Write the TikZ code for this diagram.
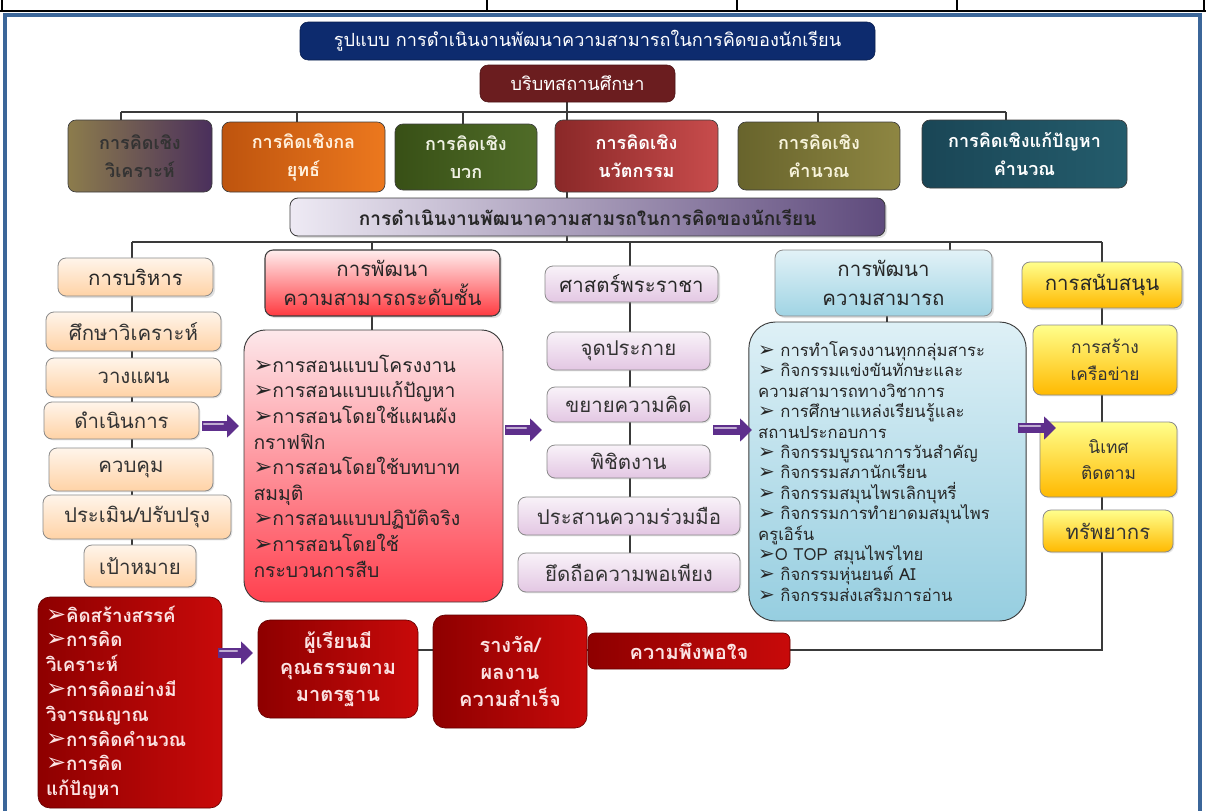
\documentclass[tikz,border=0pt]{standalone}
\usepackage{fontspec}
\newfontfamily\thai[Script=Thai]{Loma}
\newfontfamily\symf{DejaVu Sans}
\usetikzlibrary{arrows.meta,calc,shadows}
\pgfdeclarelayer{background}
\pgfsetlayers{background,main}
\newcommand\thsz[2]{\thai\fontsize{#1}{#2}\selectfont}
\newcommand\bul[1][12]{{\symf\fontsize{#1}{#1}\selectfont ➢}}
\newcommand\mkbox[7]{\node[#2,minimum width={(#5-#3)*0.75pt},minimum height={(#6-#4)*0.75pt}] (#1) at ({(#3+#5)/2},{(#4+#6)/2}) {#7};}
\definecolor{cFrame}{HTML}{3B6699}
\definecolor{cLine}{HTML}{3A3A3A}
\definecolor{cArrow}{HTML}{5E2F8C}
\definecolor{cNavy}{HTML}{0D2B6E}
\definecolor{cMaroon}{HTML}{6B1D1F}
\definecolor{cGrayB}{HTML}{8A8A8A}
\definecolor{cDarkB}{HTML}{3C3C3C}
\definecolor{cRedA}{HTML}{8E0000}
\definecolor{cRedB}{HTML}{C80A0A}
\definecolor{cRedTxt}{HTML}{FBE3E3}
\tikzset{
  box/.style={rounded corners=6pt, inner sep=2pt, outer sep=0pt, align=center},
  conn/.style={draw=cLine, line width=0.9pt},
  bigarrow/.style={draw=cArrow, line width=7pt, -{Triangle[length=9pt,width=17pt]}},
  arrowlight/.style={draw=cArrow!40!white, line width=1.6pt, line cap=round},
  think/.style={box, font=\thsz{13.5}{21}\bfseries, draw=cDarkB, line width=0.5pt},
  head/.style={box, font=\thsz{15.3}{22}, text=black!85, draw=cGrayB, line width=0.6pt,
     drop shadow={opacity=0.25,shadow xshift=1.5pt,shadow yshift=-1.5pt}},
  item/.style={box, font=\thsz{15.3}{18}, text=black!80, draw=cGrayB, line width=0.6pt,
     drop shadow={opacity=0.2,shadow xshift=1pt,shadow yshift=-1pt}},
  peach/.style={top color=orange!8, bottom color=orange!35!white},
  lav/.style={top color=violet!5, bottom color=violet!22!white},
  yel/.style={top color=yellow!45!white, bottom color=orange!55!yellow},
  redbox/.style={box, rounded corners=9pt, left color=cRedA, right color=cRedB, draw=cRedA!70!black,
     line width=0.5pt, text=cRedTxt, font=\thsz{15}{20}\bfseries},
}
\begin{document}
\begin{tikzpicture}[x=0.75pt,y=-0.75pt]
\useasboundingbox (0,0) rectangle (1206,810);
\begin{pgfonlayer}{background}
\fill[white] (0,0) rectangle (1206,810);
\end{pgfonlayer}
% top strip and frame
\draw[black, line width=1.6pt] (0,11) -- (1206,11);
\foreach \xx in {2,487,737,957,1204} \draw[black, line width=1pt] (\xx,0) -- (\xx,11);
\draw[cFrame, line width=3pt] (5,15) rectangle (1200,815);

% title and context
\mkbox{title}{box, fill=cNavy, draw=cNavy!70!black, text=white, font=\thsz{13.6}{16}}{300}{22}{875}{60}{รูปแบบ การดำเนินงานพัฒนาความสามารถในการคิดของนักเรียน}
\mkbox{ctx}{box, fill=cMaroon, draw=cMaroon!70!black, text=white, font=\thsz{13.6}{16}}{480}{65}{675}{102}{บริบทสถานศึกษา}

% thinking types
\mkbox{t1}{think, left color={rgb,255:red,140;green,124;blue,76}, right color={rgb,255:red,74;green,47;blue,92}, text=black!80}{68}{120}{212}{192}{การคิดเชิง\\วิเคราะห์}
\mkbox{t2}{think, left color={rgb,255:red,190;green,84;blue,14}, right color={rgb,255:red,236;green,120;blue,30}, text={rgb,255:red,255;green,240;blue,220}}{222}{122}{385}{192}{การคิดเชิงกล\\ยุทธ์}
\mkbox{t3}{think, left color={rgb,255:red,56;green,80;blue,22}, right color={rgb,255:red,80;green,108;blue,40}, text={rgb,255:red,240;green,242;blue,228}}{395}{124}{537}{190}{การคิดเชิง\\บวก}
\mkbox{t4}{think, left color={rgb,255:red,138;green,40;blue,40}, right color={rgb,255:red,200;green,76;blue,76}, text=white}{555}{120}{718}{192}{การคิดเชิง\\นวัตกรรม}
\mkbox{t5}{think, left color={rgb,255:red,104;green,100;blue,44}, right color={rgb,255:red,142;green,134;blue,66}, text={rgb,255:red,248;green,244;blue,220}}{738}{122}{900}{190}{การคิดเชิง\\คำนวณ}
\mkbox{t6}{think, left color={rgb,255:red,26;green,70;blue,86}, right color={rgb,255:red,36;green,92;blue,108}, text=white}{922}{120}{1127}{188}{การคิดเชิงแก้ปัญหา\\คำนวณ}

% middle bar
\mkbox{mid}{box, left color={rgb,255:red,238;green,234;blue,244}, right color={rgb,255:red,94;green,74;blue,124}, draw=cDarkB, line width=0.6pt, text=black!85, font=\thsz{14.3}{16}\bfseries, drop shadow={opacity=0.25,shadow xshift=1.5pt,shadow yshift=-1.5pt}}{290}{198}{885}{236}{การดำเนินงานพัฒนาความสามรถในการคิดของนักเรียน}

% column heads
\mkbox{h1}{head, peach}{58}{258}{213}{296}{การบริหาร}
\mkbox{h2}{head, top color={rgb,255:red,255;green,238;blue,238}, bottom color={rgb,255:red,255;green,58;blue,64}, draw=cDarkB, line width=0.8pt}{265}{250}{500}{316}{การพัฒนา\\ความสามารถระดับชั้น}
\mkbox{h3}{head, lav}{545}{266}{718}{302}{ศาสตร์พระราชา}
\mkbox{h4}{head, top color={rgb,255:red,226;green,242;blue,247}, bottom color={rgb,255:red,160;green,212;blue,228}}{775}{250}{992}{316}{การพัฒนา\\ความสามารถ}
\mkbox{h5}{head, yel}{1022}{262}{1182}{308}{การสนับสนุน}

% column 1
\mkbox{a1}{item, peach}{46}{312}{221}{351}{ศึกษาวิเคราะห์}
\mkbox{a2}{item, peach}{46}{358}{221}{397}{วางแผน}
\mkbox{a3}{item, peach}{44}{402}{199}{439}{ดำเนินการ}
\mkbox{a4}{item, peach}{49}{448}{213}{491}{ควบคุม}
\mkbox{a5}{item, peach}{43}{495}{231}{539}{ประเมิน/ปรับปรุง}
\mkbox{a6}{item, peach}{84}{545}{196}{587}{เป้าหมาย}

% column 2
\mkbox{p2}{box, rounded corners=16pt, top color={rgb,255:red,253;green,232;blue,235}, bottom color={rgb,255:red,255;green,64;blue,78}, draw=cDarkB, line width=0.7pt, align=left, text width=180pt, inner xsep=7pt, text=black!85, font=\thsz{14.5}{19.2}}{244}{330}{503}{602}{\bul[17]การสอนแบบโครงงาน\\\bul[17]การสอนแบบแก้ปัญหา\\\bul[17]การสอนโดยใช้แผนผัง\\กราฟฟิก\\\bul[17]การสอนโดยใช้บทบาท\\สมมุติ\\\bul[17]การสอนแบบปฏิบัติจริง\\\bul[17]การสอนโดยใช้\\กระบวนการสืบ}

% column 3
\mkbox{c1}{item, lav}{547}{332}{710}{370}{จุดประกาย}
\mkbox{c2}{item, lav}{547}{387}{710}{422}{ขยายความคิด}
\mkbox{c3}{item, lav}{547}{445}{710}{478}{พิชิตงาน}
\mkbox{c4}{item, lav}{518}{497}{740}{535}{ประสานความร่วมมือ}
\mkbox{c5}{item, lav}{518}{553}{740}{592}{ยึดถือความพอเพียง}

% column 4
\mkbox{p4}{box, rounded corners=20pt, top color={rgb,255:red,222;green,240;blue,246}, bottom color={rgb,255:red,150;green,206;blue,224}, draw=cDarkB, line width=0.7pt, align=left, text width=194pt, inner xsep=7pt, text=black!85, font=\thsz{12.5}{15.3}}{749}{322}{1026}{621}{\bul[15]\ การทำโครงงานทุกกลุ่มสาระ\\\bul[15]\ กิจกรรมแข่งขันทักษะและ\\ความสามารถทางวิชาการ\\\bul[15]\ การศึกษาแหล่งเรียนรู้และ\\สถานประกอบการ\\\bul[15]\ กิจกรรมบูรณาการวันสำคัญ\\\bul[15]\ กิจกรรมสภานักเรียน\\\bul[15]\ กิจกรรมสมุนไพรเลิกบุหรี่\\\bul[15]\ กิจกรรมการทำยาดมสมุนไพร\\ครูเอิร์น\\\bul[15]O TOP  สมุนไพรไทย\\\bul[15]\ กิจกรรมหุ่นยนต์ AI\\\bul[15]\ กิจกรรมส่งเสริมการอ่าน}

% column 5
\mkbox{s1}{item, yel, font=\thsz{13}{20}}{1033}{325}{1177}{395}{การสร้าง\\เครือข่าย}
\mkbox{s2}{item, yel, font=\thsz{13}{20}}{1040}{422}{1177}{497}{นิเทศ\\ติดตาม}
\mkbox{s3}{item, yel}{1043}{510}{1173}{552}{ทรัพยากร}

% bottom row
\mkbox{r1}{redbox, align=left, text width=126pt, inner xsep=6pt, font=\thsz{14}{18.6}\bfseries}{38}{597}{222}{808}{\bul[18]คิดสร้างสรรค์\\\bul[18]การคิด\\วิเคราะห์\\\bul[18]การคิดอย่างมี\\วิจารณญาณ\\\bul[18]การคิดคำนวณ\\\bul[18]การคิด\\แก้ปัญหา}
\mkbox{r2}{redbox}{258}{620}{418}{718}{ผู้เรียนมี\\คุณธรรมตาม\\มาตรฐาน}
\mkbox{r3}{redbox}{433}{615}{587}{728}{รางวัล/\\ผลงาน\\ความสำเร็จ}
\mkbox{r4}{redbox, rounded corners=5pt}{588}{633}{790}{669}{ความพึงพอใจ}

% coordinates
\coordinate (X567) at (567,0);
\coordinate (b1) at (121,112);
\coordinate (b2) at (297,112);
\coordinate (b3) at (463,112);
\coordinate (b5) at (818,112);
\coordinate (b6) at (1006,112);
\coordinate (m1) at (132,242);
\coordinate (m2) at (372,242);
\coordinate (m3) at (630,242);
\coordinate (m4) at (950,242);
\coordinate (m5) at (1102,242);
\coordinate (k4) at (887,0);
\coordinate (corner) at (1102,650);

\begin{pgfonlayer}{background}
\draw[conn] (ctx.south -| X567) -- (mid.north -| X567);
\draw[conn] (b1) -- (b6);
\foreach \b/\t in {b1/t1,b2/t2,b3/t3,b5/t5,b6/t6} \draw[conn] (\b) -- (\b |- \t.north);
\draw[conn] (mid.south -| X567) -- (X567 |- m1);
\draw[conn] (m1) -- (m5);
\foreach \m/\h in {m1/h1,m2/h2,m3/h3,m4/h4,m5/h5} \draw[conn] (\m) -- (\m |- \h.north);
\draw[conn] (h1.south -| m1) -- (a6.north -| m1);
\draw[conn] (h2.south -| m2) -- (p2.north -| m2);
\draw[conn] (h3.south -| m3) -- (c5.north -| m3);
\draw[conn] (h4.south -| k4) -- (p4.north -| k4);
\draw[conn] (h5.south -| corner) -- (corner) -- (r2.east |- corner);
\end{pgfonlayer}

% block arrows
\coordinate (A1s) at (202,426); \coordinate (A1e) at (239,426);
\coordinate (A2s) at (505,430); \coordinate (A2e) at (542,430);
\coordinate (A3s) at (713,430); \coordinate (A3e) at (752,430);
\coordinate (A4s) at (1018,428); \coordinate (A4e) at (1056,428);
\coordinate (A5s) at (218,653); \coordinate (A5e) at (253,653);
\foreach \s/\e in {A1s/A1e,A2s/A2e,A3s/A3e,A4s/A4e,A5s/A5e} {
  \draw[bigarrow] (\s) -- (\e);
  \draw[arrowlight] ([xshift=1.5pt,yshift=1.2pt]\s) -- ([xshift=-12pt,yshift=1.2pt]\e);
}
\end{tikzpicture}
\end{document}
